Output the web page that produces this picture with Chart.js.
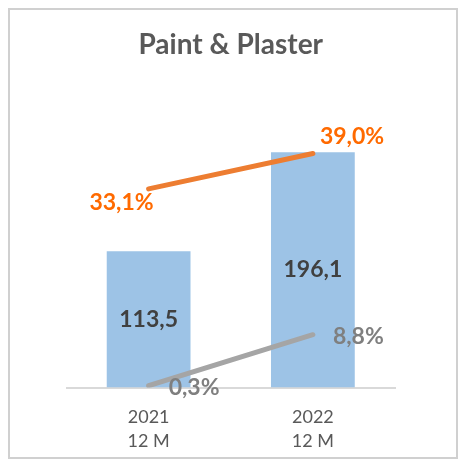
<!DOCTYPE html>
<html>
<head>
<meta charset="utf-8">
<script src="https://cdn.jsdelivr.net/npm/chart.js@4"></script>
<style>
  body { margin: 0; background: #fff; }
  #wrap { position: relative; width: 459px; height: 459px; }
  #frame { position: absolute; left: 8px; top: 8px; width: 450px; height: 451px; box-sizing: border-box; border: 2px solid #d0d0d0; pointer-events: none; }
</style>
</head>
<body>
<div id="wrap">
  <canvas id="myChart1" width="459" height="459"></canvas>
  <div id="frame"></div>
</div>
<script>
let categories = [['2021', '12 M'], ['2022', '12 M']];
let salesValues = [113.5, 196.1];
let marginValues = [33.1, 39.0];
let growthValues = [0.3, 8.8];

const fmt = (v, pct) => v.toFixed(1).replace('.', ',') + (pct ? '%' : '');

// labels for bars and lines, placed from the element positions
const labelPlugin = {
    id: 'labels',
    afterDatasetsDraw(chart) {
        const c = chart.ctx;
        c.save();
        c.textBaseline = 'middle';
        // bars
        let meta = chart.getDatasetMeta(0);
        c.font = 'bold 23px Lato';
        c.fillStyle = '#404040';
        c.textAlign = 'center';
        meta.data.forEach((bar, i) => {
            c.fillText(fmt(salesValues[i]), bar.x, (bar.y + bar.base) / 2);
        });
        // orange line
        meta = chart.getDatasetMeta(1);
        c.fillStyle = '#FF6A00';
        let p = meta.data[0];
        c.textAlign = 'right';
        c.fillText(fmt(marginValues[0], true), p.x + 5, p.y + 14);
        p = meta.data[1];
        c.textAlign = 'left';
        c.fillText(fmt(marginValues[1], true), p.x + 7, p.y - 17);
        // gray line
        meta = chart.getDatasetMeta(2);
        c.fillStyle = '#7F7F7F';
        meta.data.forEach((pt, i) => {
            c.fillText(fmt(growthValues[i], true), pt.x + 20, pt.y + 2);
        });
        c.restore();
    }
};

let ctx = document.getElementById('myChart1').getContext('2d');
let myChart1 = new Chart(ctx, {
    type: 'bar',
    data: {
        labels: categories,
        datasets: [{
            data: salesValues,
            backgroundColor: '#9DC3E6',
            categoryPercentage: 0.51,
            barPercentage: 1,
            yAxisID: 'y',
            order: 2
        }, {
            type: 'line',
            data: marginValues,
            borderColor: '#ED7D31',
            borderWidth: 5,
            borderCapStyle: 'round',
            pointRadius: 0,
            yAxisID: 'y2',
            order: 1
        }, {
            type: 'line',
            data: growthValues,
            borderColor: '#A5A5A5',
            borderWidth: 5,
            borderCapStyle: 'round',
            pointRadius: 0,
            yAxisID: 'y2',
            order: 0
        }]
    },
    options: {
        responsive: false,
        animation: false,
        layout: {
            padding: { left: 66.5, right: 64, top: 0, bottom: 0 }
        },
        plugins: {
            legend: { display: false },
            tooltip: { enabled: false },
            title: {
                display: true,
                text: 'Paint & Plaster',
                color: '#595959',
                font: { family: 'Lato', size: 28, weight: 'bold' },
                padding: { top: 28, bottom: 25.9 }
            }
        },
        scales: {
            x: {
                grid: { display: false, drawTicks: false },
                border: { color: '#d9d9d9', width: 2 },
                ticks: {
                    color: '#595959',
                    font: { family: 'Lato', size: 18, lineHeight: 1.33 },
                    padding: 18
                },
                afterFit: (scale) => { scale.height = 71.5; }
            },
            y: { display: false, min: 0, max: 250 },
            y2: { display: false, min: 0, max: 50, position: 'right' }
        }
    },
    plugins: [labelPlugin]
});
</script>
</body>
</html>
